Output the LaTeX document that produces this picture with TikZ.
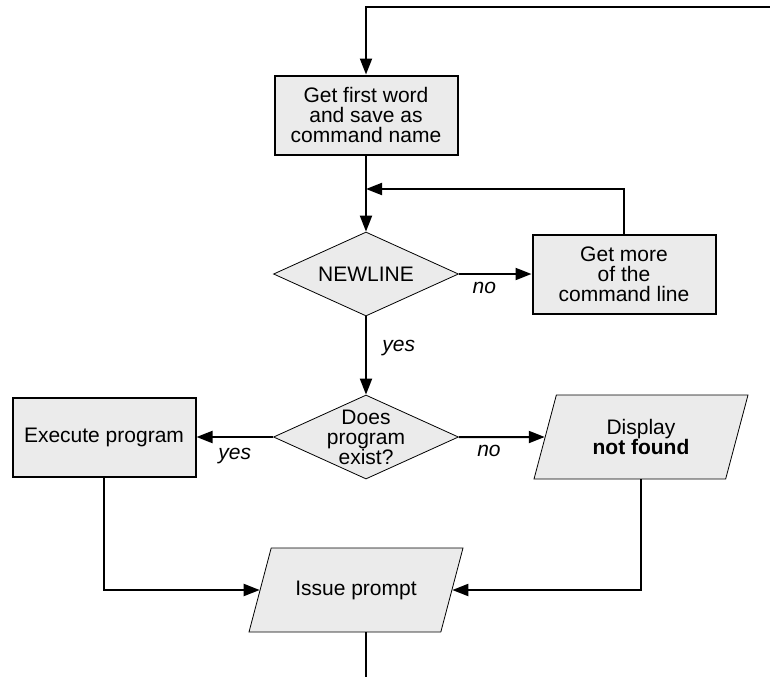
\documentclass[tikz,border=0pt]{standalone}
\usepackage{fontspec}
\setmainfont{Liberation Sans}
\usetikzlibrary{shapes.geometric,arrows.meta}
\definecolor{boxgray}{RGB}{235,235,235}

\begin{document}
\begin{tikzpicture}[x=1pt,y=-1pt,
  every node/.style={font=\fontsize{21}{20}\selectfont, align=center},
  process/.style={draw, line width=2pt, fill=boxgray, minimum width=183pt, minimum height=79pt, inner sep=0pt},
  decision/.style={diamond, draw, line width=0.8pt, fill=boxgray, minimum width=185pt, minimum height=84pt, inner sep=-14pt},
  iobox/.style={trapezium, trapezium left angle=75, trapezium right angle=105, trapezium stretches body, draw, line width=0.8pt, fill=boxgray, minimum width=214pt, minimum height=84pt, inner xsep=0pt},
  flow/.style={line width=2pt, -{Triangle[length=16pt,width=12pt]}},
  answer/.style={font=\fontsize{21}{20}\selectfont\itshape}]
  \useasboundingbox (0,0) rectangle (770,677);

  % Steps
  \node[process] (getword) at (366,115) {Get first word\\and save as\\command name};
  \node[decision] (newline) at (366,274) {NEWLINE};
  \node[process] (more) at (624,274) {Get more\\of the\\command line};
  \node[decision] (exist) at (366,437) {Does\\program\\exist?};
  \node[process] (execute) at (104,437) {Execute program};
  \node[iobox, inner ysep=24pt] (display) at (641,437) {Display\\\textbf{not found}};
  \node[iobox, inner ysep=32pt] (prompt) at (356,590) {Issue prompt};

  % Loose ends
  \coordinate (loop) at (770,7);
  \coordinate (join) at (366,189);
  \coordinate (exit) at (366,677);

  % Connectors
  \draw[flow] (loop) -| (getword.north);
  \draw[flow] (getword.south) -- (newline.north);
  \draw[flow] (newline.east) -- (more.west) node[answer, pos=0.35, below=4pt] {no};
  \draw[flow] (more.north) |- (join);
  \draw[flow] (newline.south) -- (exist.north) node[answer, pos=0.4, right=12pt] {yes};
  \draw[flow] (exist.west) -- (execute.east) node[answer, midway, below=7pt] {yes};
  \draw[flow] (exist.east) -- (display.west) node[answer, pos=0.35, below=4pt] {no};
  \draw[flow] (execute.south) |- (prompt.west);
  \draw[flow] (display.south) |- (prompt.east);
  \draw[line width=2pt] (exit |- prompt.south) -- (exit);
\end{tikzpicture}
\end{document}
